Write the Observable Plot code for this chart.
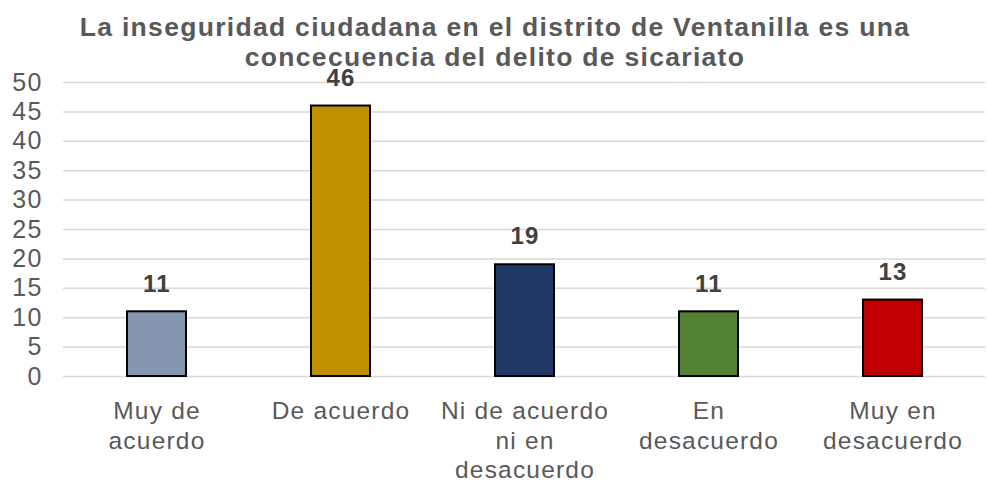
<!DOCTYPE html>
<html>
<head>
<meta charset="utf-8">
<script src="https://cdn.jsdelivr.net/npm/d3@7"></script>
<script src="https://cdn.jsdelivr.net/npm/@observablehq/plot@0.6"></script>
<style>
  html, body { margin: 0; padding: 0; background: #fff; }
  #wrap { position: relative; width: 987px; height: 482px; font-family: "Liberation Sans", Arial, sans-serif; }
  #title { position: absolute; left: 0; top: 12px; width: 990px; text-align: center; font-weight: bold; font-size: 26.5px; line-height: 30px; letter-spacing: 1.3px; color: #595959; z-index: 1; }
</style>
</head>
<body>
<div id="wrap">
  <div id="title">La inseguridad ciudadana en el distrito de Ventanilla es una<br>concecuencia del delito de sicariato</div>
</div>
<script>
const categories = ["Muy de\nacuerdo", "De acuerdo", "Ni de acuerdo\nni en\ndesacuerdo", "En\ndesacuerdo", "Muy en\ndesacuerdo"];
const values = [11, 46, 19, 11, 13];
const colors = ["#8497b0", "#bf9000", "#203864", "#548235", "#c00000"];
const yTicks = [0, 5, 10, 15, 20, 25, 30, 35, 40, 45, 50];

const data = categories.map((c, i) => ({cat: c, value: values[i], color: colors[i]}));

const chart = Plot.plot({
  width: 987,
  height: 482,
  marginTop: 82,
  marginBottom: 106,
  marginLeft: 63,
  marginRight: 2,
  style: {fontFamily: "Liberation Sans, Arial, sans-serif", background: "transparent", overflow: "visible", letterSpacing: "1.2px"},
  x: {domain: categories, paddingInner: 0.68, paddingOuter: 0.34, axis: null},
  y: {domain: [0, 50], axis: null},
  marks: [
    Plot.gridY(yTicks, {stroke: "#d9d9d9", strokeOpacity: 1, strokeWidth: 1.5}),
    Plot.text(yTicks, {y: d => d, text: d => String(d), frameAnchor: "left", textAnchor: "end", dx: -21, fontSize: 25, fill: "#595959"}),
    Plot.text(categories, {x: d => d, text: d => d, frameAnchor: "bottom", lineAnchor: "top", dy: 22, fontSize: 24.5, lineHeight: 1.2, fill: "#595959"}),
    Plot.barY(data, {x: "cat", y: "value", fill: "color", stroke: "#000", strokeWidth: 2}),
    Plot.text(data, {x: "cat", y: "value", text: d => String(d.value), dy: -28, fontSize: 24, fontWeight: "bold", fill: "#404040"})
  ]
});
document.getElementById("wrap").appendChild(chart);
chart.style.position = "absolute";
chart.style.left = "0";
chart.style.top = "0";
</script>
</body>
</html>
